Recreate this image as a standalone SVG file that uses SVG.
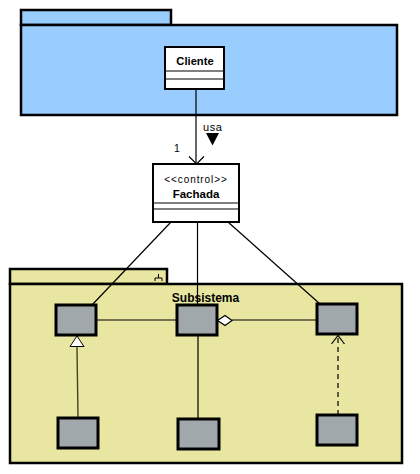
<svg xmlns="http://www.w3.org/2000/svg" width="420" height="474" viewBox="0 0 420 474">
<style>
.pkgA{fill:#99CCFF;stroke:#000;stroke-width:2.5}
.pkgB{fill:#E8E6A0;stroke:#000;stroke-width:2.5}
.cls{fill:#fff;stroke:#000;stroke-width:2}
.sep{stroke:#000;stroke-width:1.2}
.box{fill:#A0A8AC;stroke:#000;stroke-width:3}
.ln{stroke:#000;stroke-width:1.2;fill:none}
.t{font-family:"Liberation Sans",Arial,sans-serif;fill:#000}
.b{font-weight:bold}
</style>
<rect width="420" height="474" fill="#fff"/>
<g id="pkg-top">
<rect class="pkgA" x="21" y="10" width="150" height="15"/>
<rect class="pkgA" x="21" y="25" width="376" height="90"/>
</g>
<g id="pkg-subsistema">
<rect class="pkgB" x="10" y="269" width="157" height="15"/>
<rect class="pkgB" x="10" y="284" width="392" height="179"/>
<path d="M158.5 274v4M155 281v-3h7v3" fill="none" stroke="#000" stroke-width="1"/>
</g>
<g id="connectors">
<line class="ln" x1="196" y1="89" x2="196" y2="164" stroke="#555"/>
<path d="M189 156.5L196.5 164L204 156.5" class="ln"/>
<line class="ln" x1="171" y1="222" x2="92" y2="305"/>
<line class="ln" x1="197.5" y1="222" x2="197.5" y2="305"/>
<line class="ln" x1="228" y1="222" x2="320" y2="304"/>
<line class="ln" x1="96" y1="320" x2="177" y2="320"/>
<line class="ln" x1="232" y1="320" x2="317" y2="320"/>
<path d="M217.5 320.5L225 315.5L232 320.5L225 325.5Z" fill="#fff" stroke="#000" stroke-width="1.2"/>
<line class="ln" x1="198" y1="335" x2="198" y2="419"/>
<line x1="78" y1="418" x2="77" y2="347" stroke="#444422" stroke-width="1.4"/>
<path d="M77 336L84 346.5L70 346.5Z" fill="#fff" stroke="#000" stroke-width="1"/>
<line class="ln" x1="338" y1="415" x2="338" y2="337" stroke-dasharray="5,4"/>
<path d="M331.5 344L338 335.5L344.5 344" class="ln"/>
</g>
<g id="cliente">
<rect class="cls" x="165" y="47" width="59" height="42"/>
<line class="sep" x1="165" y1="71" x2="224" y2="71"/>
<line class="sep" x1="165" y1="79" x2="224" y2="79"/>
<text class="t b" x="195" y="65" font-size="11.2" text-anchor="middle">Cliente</text>
</g>
<g id="fachada">
<rect class="cls" x="153" y="164" width="86" height="58"/>
<line class="sep" x1="153" y1="203" x2="239" y2="203"/>
<line class="sep" x1="153" y1="209" x2="239" y2="209"/>
<text class="t" x="196" y="183" font-size="10" text-anchor="middle" letter-spacing="0.9">&lt;&lt;control&gt;&gt;</text>
<text class="t b" x="196" y="197.5" font-size="11.5" text-anchor="middle">Fachada</text>
</g>
<g id="labels">
<text class="t" x="203" y="130.5" font-size="11" letter-spacing="0.6">usa</text>
<path d="M206 133H219L212.5 145.5Z" fill="#000"/>
<text class="t" x="174" y="152" font-size="10.5">1</text>
<text class="t b" x="205.5" y="301.5" font-size="12" text-anchor="middle">Subsistema</text>
</g>
<g id="c1"><rect class="box" x="56" y="305" width="40" height="30"/></g>
<g id="c2"><rect class="box" x="177" y="305" width="40" height="30"/></g>
<g id="c3"><rect class="box" x="317" y="304" width="40" height="30"/></g>
<g id="c4"><rect class="box" x="58" y="418" width="40" height="30"/></g>
<g id="c5"><rect class="box" x="178" y="419" width="41" height="30"/></g>
<g id="c6"><rect class="box" x="317" y="415" width="40" height="30"/></g>
</svg>
